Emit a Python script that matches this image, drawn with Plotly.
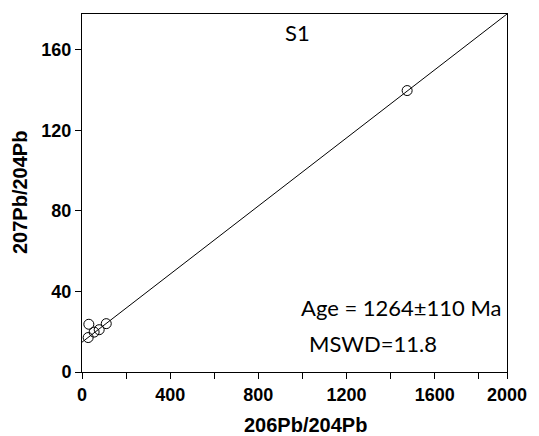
import plotly.graph_objects as go

# Data
x_pts = [31, 28, 55, 78, 110, 1475]
y_pts = [23.7, 17.1, 19.8, 21.0, 24.0, 139.7]
line_x = [0, 1928]
line_y = [14.8, 177.7]
x_tickvals = [0, 400, 800, 1200, 1600, 1928]
x_ticktext = ["0", "400", "800", "1200", "1600", "2000"]
y_ticks = [0, 40, 80, 120, 160]

fig = go.Figure()
fig.add_trace(go.Scatter(x=line_x, y=line_y, mode="lines",
                         line=dict(color="black", width=1), showlegend=False))
fig.add_trace(go.Scatter(x=x_pts, y=y_pts, mode="markers",
                         marker=dict(symbol="circle-open", size=10, color="black",
                                     line=dict(width=1)), showlegend=False))

ann_font = dict(family="Lato, Noto Sans, sans-serif", size=22, color="black")
fig.add_annotation(x=977, y=168.4, text="S1", showarrow=False, font=ann_font,
                   xanchor="center", yanchor="middle")
fig.add_annotation(x=1450, y=31.9, text="Age = 1264±110 Ma", showarrow=False,
                   font=ann_font, xanchor="center", yanchor="middle")
fig.add_annotation(x=1320, y=14.0, text="MSWD=11.8", showarrow=False,
                   font=ann_font, xanchor="center", yanchor="middle")

title_font = dict(family="Liberation Sans, Arial", size=20, color="black", weight="bold")
fig.add_annotation(x=0.527, y=0, xref="paper", yref="paper", text="206Pb/204Pb",
                   showarrow=False, font=title_font, xanchor="center", yanchor="middle",
                   yshift=-53)
fig.add_annotation(x=0, y=0.5, xref="paper", yref="paper", text="207Pb/204Pb",
                   showarrow=False, font=title_font, xanchor="center", yanchor="middle",
                   xshift=-62, textangle=-90)

axis_common = dict(showgrid=False, zeroline=False, showline=True, linecolor="black",
                   linewidth=1, mirror=True, ticks="outside", ticklen=6,
                   tickcolor="black", tickwidth=1,
                   tickfont=dict(family="Liberation Sans, Arial", size=18, color="black", weight="bold"))

fig.update_layout(
    width=539, height=436,
    margin=dict(l=82, r=22, t=14, b=64),
    plot_bgcolor="white", paper_bgcolor="white",
    xaxis=dict(range=[0, 1928], tickmode="array", tickvals=x_tickvals, ticktext=x_ticktext,
               minor=dict(tick0=0, dtick=200, ticks="outside", ticklen=6, tickcolor="black"),
               **axis_common),
    yaxis=dict(range=[0, 177.7], tickmode="array", tickvals=y_ticks,
               ticktext=[str(v) for v in y_ticks],
               **axis_common),
)

fig.write_html("out.html")
